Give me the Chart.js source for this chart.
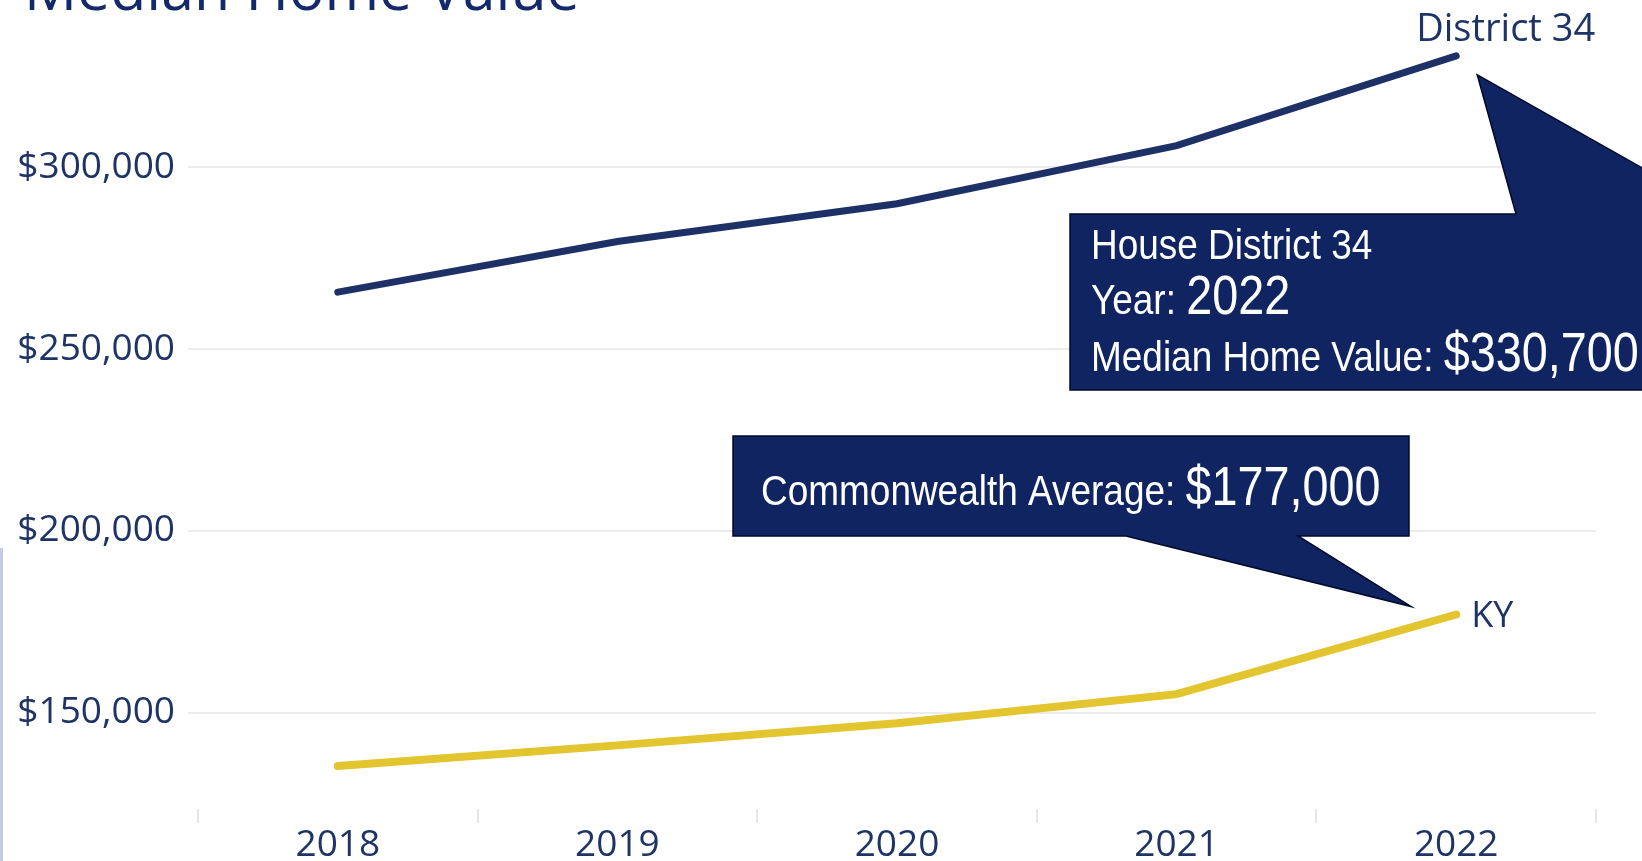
<!DOCTYPE html>
<html>
<head>
<meta charset="utf-8">
<script src="https://cdn.jsdelivr.net/npm/chart.js@4.4.1/dist/chart.umd.min.js"></script>
<style>
  html, body { margin: 0; padding: 0; background: #fff; }
  #wrap { width: 1642px; height: 861px; position: relative; overflow: hidden; }
</style>
</head>
<body>
<div id="wrap"><canvas id="chart" width="1642" height="861"></canvas></div>
<script>
const years = ['2018', '2019', '2020', '2021', '2022'];
const district34 = [265700, 279600, 290000, 306000, 330700];
const kentucky = [135300, 141000, 147100, 155100, 177000];
const yTicks = [150000, 200000, 250000, 300000];

const navy = '#1f3466';
const boxFill = '#0f2461';
const money = v => '$' + v.toLocaleString('en-US');

// draws title, end labels and the two callout boxes
const annotations = {
  id: 'annotations',
  afterDraw(chart) {
    const ctx = chart.ctx;
    const x = chart.scales.x, y = chart.scales.y;
    const last = years.length - 1;
    const dX = x.getPixelForValue(last), dY = y.getPixelForValue(district34[last]);
    const kX = dX, kY = y.getPixelForValue(kentucky[last]);

    ctx.save();
    // cut-off title
    ctx.fillStyle = '#13296b';
    ctx.font = '59px "Open Sans", sans-serif';
    ctx.textBaseline = 'alphabetic';
    ctx.fillText('Median Home Value', 24, 10);

    // left accent bar
    ctx.fillStyle = '#c5cae8';
    ctx.fillRect(0, 548, 3, 313);

    // series end labels
    ctx.fillStyle = navy;
    ctx.font = '38px "Open Sans", sans-serif';
    ctx.fillText('District 34', dX - 40, dY - 15);
    ctx.font = '36px "Open Sans", sans-serif';
    ctx.textBaseline = 'middle';
    ctx.fillText('KY', kX + 15, kY + 2);

    ctx.fillStyle = boxFill;
    ctx.strokeStyle = '#000a2a';
    ctx.lineWidth = 1.5;

    // District callout, tail pointing up-left to the 2022 point
    const tip1 = [dX + 21, dY + 19];
    ctx.beginPath();
    ctx.moveTo(1070, 214);
    ctx.lineTo(1516, 214);
    ctx.lineTo(tip1[0], tip1[1]);
    ctx.lineTo(1724, 214);
    ctx.lineTo(1760, 214);
    ctx.lineTo(1760, 390);
    ctx.lineTo(1070, 390);
    ctx.closePath();
    ctx.fill();
    ctx.stroke();

    // KY callout, tail pointing down-right to the 2022 point
    const tip2 = [kX - 45, kY - 8];
    ctx.beginPath();
    ctx.moveTo(733, 436);
    ctx.lineTo(1409, 436);
    ctx.lineTo(1409, 536);
    ctx.lineTo(1298, 536);
    ctx.lineTo(tip2[0], tip2[1]);
    ctx.lineTo(1126, 536);
    ctx.lineTo(733, 536);
    ctx.closePath();
    ctx.fill();
    ctx.stroke();

    // callout text, squeezed sideways to look like a narrow face
    ctx.fillStyle = '#ffffff';
    ctx.textBaseline = 'alphabetic';
    const mixed = (label, value, tx, ty) => {
      ctx.save();
      ctx.translate(tx, ty);
      ctx.save();
      ctx.scale(0.88, 1);
      ctx.font = '42px "Liberation Sans", Arial, sans-serif';
      ctx.fillText(label, 0, 0);
      const w = ctx.measureText(label).width * 0.88;
      ctx.restore();
      if (value) {
        ctx.scale(0.835, 1);
        ctx.font = '56px "Liberation Sans", Arial, sans-serif';
        ctx.fillText(value, w / 0.835, 0);
      }
      ctx.restore();
    };
    mixed('House District 34', '', 1091, 259);
    mixed('Year: ', years[last], 1091, 314);
    mixed('Median Home Value: ', money(district34[last]), 1091, 371);
    mixed('Commonwealth Average: ', money(kentucky[last]), 761, 505);
    ctx.restore();
  }
};

new Chart(document.getElementById('chart'), {
  type: 'line',
  data: {
    labels: years,
    datasets: [
      {
        label: 'District 34',
        data: district34,
        borderColor: '#1e3166',
        borderWidth: 7,
        borderCapStyle: 'round',
        pointRadius: 0,
        tension: 0
      },
      {
        label: 'KY',
        data: kentucky,
        borderColor: '#e3c52f',
        borderWidth: 8,
        borderCapStyle: 'round',
        pointRadius: 0,
        tension: 0
      }
    ]
  },
  options: {
    responsive: false,
    animation: false,
    layout: { padding: { top: 22, right: 46, left: 0, bottom: 0 } },
    plugins: {
      legend: { display: false },
      tooltip: { enabled: false }
    },
    scales: {
      x: {
        offset: true,
        border: { display: false },
        grid: {
          offset: true,
          drawOnChartArea: false,
          drawTicks: true,
          tickLength: 14,
          color: '#e6e6e6',
          lineWidth: 2
        },
        ticks: {
          color: navy,
          padding: 0,
          font: { family: '"Open Sans", sans-serif', size: 37 }
        },
        afterFit: s => { s.height = 52; s.paddingLeft = 0; s.paddingRight = 0; }
      },
      y: {
        min: 123500,
        max: 340000,
        border: { display: false },
        afterBuildTicks: s => { s.ticks = yTicks.map(v => ({ value: v })); },
        grid: {
          color: '#ececec',
          lineWidth: 2,
          drawTicks: true,
          tickLength: 10
        },
        ticks: {
          color: navy,
          padding: 13,
          font: { family: '"Open Sans", sans-serif', size: 37 },
          callback: v => money(v)
        },
        afterFit: s => { s.width = 198; s.paddingTop = 0; s.paddingBottom = 0; }
      }
    }
  },
  plugins: [annotations]
});
</script>
</body>
</html>
